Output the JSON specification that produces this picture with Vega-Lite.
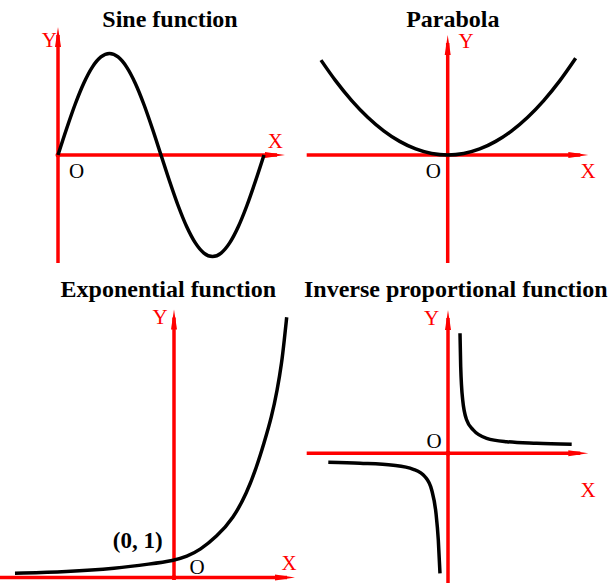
{
  "$schema": "https://vega.github.io/schema/vega-lite/v6.json",
  "padding": 0,
  "background": "white",
  "spacing": 0,
  "bounds": "flush",
  "columns": 2,
  "config": {"view": {"stroke": null}, "concat": {"spacing": 0}},
  "datasets": {
    "origin": [{"x": 0, "y": 0}],
    "sineCurve": [
      {"x": 0, "y": 0}, {"x": 0.2618, "y": 0.2588}, {"x": 0.5236, "y": 0.5}, {"x": 0.7854, "y": 0.7071},
      {"x": 1.0472, "y": 0.866}, {"x": 1.309, "y": 0.9659}, {"x": 1.5708, "y": 1}, {"x": 1.8326, "y": 0.9659},
      {"x": 2.0944, "y": 0.866}, {"x": 2.3562, "y": 0.7071}, {"x": 2.618, "y": 0.5}, {"x": 2.8798, "y": 0.2588},
      {"x": 3.1416, "y": 0}, {"x": 3.4034, "y": -0.2588}, {"x": 3.6652, "y": -0.5}, {"x": 3.927, "y": -0.7071},
      {"x": 4.1888, "y": -0.866}, {"x": 4.4506, "y": -0.9659}, {"x": 4.7124, "y": -1}, {"x": 4.9742, "y": -0.9659},
      {"x": 5.236, "y": -0.866}, {"x": 5.4978, "y": -0.7071}, {"x": 5.7596, "y": -0.5}, {"x": 6.0214, "y": -0.2588},
      {"x": 6.2832, "y": 0}
    ],
    "sineAxes": [{"x": -0.0305, "y": 0, "x2": 6.6797, "y2": 0}, {"x": 0, "y": -1.064, "x2": 0, "y2": 1.1823}],
    "sineArrows": [{"x": 6.9237, "y": 0, "angle": 90}, {"x": 0, "y": 1.2611, "angle": 0}],
    "sineText": [
      {"x": 3.4161, "y": 1.266, "label": "Sine function", "role": "title"},
      {"x": -0.2654, "y": 1.064, "label": "Y", "role": "axis"},
      {"x": 6.6278, "y": 0.066, "label": "X", "role": "axis"},
      {"x": 0.5704, "y": -0.2266, "label": "O", "role": "origin"}
    ],
    "paraCurve": [
      {"x": -1.98, "y": 3.9204}, {"x": -1.75, "y": 3.0625}, {"x": -1.5, "y": 2.25}, {"x": -1.25, "y": 1.5625},
      {"x": -1, "y": 1}, {"x": -0.75, "y": 0.5625}, {"x": -0.5, "y": 0.25}, {"x": -0.25, "y": 0.0625},
      {"x": 0, "y": 0}, {"x": 0.25, "y": 0.0625}, {"x": 0.5, "y": 0.25}, {"x": 0.75, "y": 0.5625},
      {"x": 1, "y": 1}, {"x": 1.25, "y": 1.5625}, {"x": 1.5, "y": 2.25}, {"x": 1.75, "y": 3.0625}, {"x": 2, "y": 4}
    ],
    "paraAxes": [{"x": -2.2031, "y": 0, "x2": 2.0719, "y2": 0}, {"x": 0, "y": -4.4628, "x2": 0, "y2": 4.6281}],
    "paraArrows": [{"x": 2.1969, "y": 0, "angle": 90}, {"x": 0, "y": 4.9587, "angle": 0}],
    "paraText": [
      {"x": 0.0797, "y": 5.3017, "label": "Parabola", "role": "title"},
      {"x": 0.2859, "y": 4.4215, "label": "Y", "role": "axis"},
      {"x": 2.1922, "y": -0.9504, "label": "X", "role": "axis"},
      {"x": -0.225, "y": -0.9504, "label": "O", "role": "origin"}
    ],
    "expCurve": [
      {"x": -5.679, "y": 0.247}, {"x": -3.832, "y": 0.341}, {"x": -2.046, "y": 0.541}, {"x": -0.857, "y": 0.794},
      {"x": 0, "y": 1.0}, {"x": 0.454, "y": 1.224}, {"x": 0.929, "y": 1.618}, {"x": 1.525, "y": 2.4},
      {"x": 2.118, "y": 3.482}, {"x": 2.596, "y": 4.953}, {"x": 2.954, "y": 6.518}, {"x": 3.214, "y": 7.894},
      {"x": 3.489, "y": 9.459}, {"x": 3.689, "y": 11.029}, {"x": 3.846, "y": 12.6}, {"x": 3.939, "y": 13.971},
      {"x": 4.025, "y": 15.306}
    ],
    "expAxes": [{"x": -6.3, "y": 0, "x2": 4.0357, "y2": 0}, {"x": 0, "y": -0.15, "x2": 0, "y2": 15.294}],
    "expArrows": [{"x": 4.3214, "y": 0, "angle": 90}, {"x": 0, "y": 15.765, "angle": 0}],
    "expText": [
      {"x": -0.204, "y": 16.518, "label": "Exponential function", "role": "title"},
      {"x": -0.5, "y": 14.912, "label": "Y", "role": "axis"},
      {"x": 4.107, "y": 0.441, "label": "X", "role": "axis"},
      {"x": 0.821, "y": 0.206, "label": "O", "role": "origin"},
      {"x": -1.296, "y": 1.718, "label": "(0, 1)", "role": "point"}
    ],
    "invCurve": [
      {"x": 0.343, "y": 3.429, "branch": "upper"}, {"x": 0.363, "y": 2.474, "branch": "upper"},
      {"x": 0.42, "y": 1.523, "branch": "upper"}, {"x": 0.534, "y": 0.951, "branch": "upper"},
      {"x": 0.723, "y": 0.666, "branch": "upper"}, {"x": 1.106, "y": 0.429, "branch": "upper"},
      {"x": 1.677, "y": 0.331, "branch": "upper"}, {"x": 2.534, "y": 0.286, "branch": "upper"},
      {"x": 3.534, "y": 0.257, "branch": "upper"},
      {"x": -3.42, "y": -0.257, "branch": "lower"}, {"x": -2.514, "y": -0.286, "branch": "lower"},
      {"x": -1.563, "y": -0.343, "branch": "lower"}, {"x": -0.991, "y": -0.457, "branch": "lower"},
      {"x": -0.657, "y": -0.669, "branch": "lower"}, {"x": -0.466, "y": -1.049, "branch": "lower"},
      {"x": -0.343, "y": -1.714, "branch": "lower"}, {"x": -0.277, "y": -2.477, "branch": "lower"},
      {"x": -0.229, "y": -3.429, "branch": "lower"}
    ],
    "invAxes": [{"x": -4.037, "y": 0, "x2": 3.78, "y2": 0}, {"x": 0, "y": -3.8, "x2": 0, "y2": 3.866}],
    "invArrows": [{"x": 4.0086, "y": 0, "angle": 90}, {"x": 0, "y": 4.094, "angle": 0}],
    "invText": [
      {"x": 0.223, "y": 4.457, "label": "Inverse proportional function", "role": "title"},
      {"x": -0.466, "y": 3.666, "label": "Y", "role": "axis"},
      {"x": 4.0, "y": -1.24, "label": "X", "role": "axis"},
      {"x": -0.4, "y": 0.151, "label": "O", "role": "origin"}
    ]
  },
  "concat": [
    {
      "width": 300,
      "height": 280,
      "encoding": {
        "x": {"field": "x", "type": "quantitative", "scale": {"domain": [-1.7691, 7.3812], "nice": false, "zero": false}, "axis": null},
        "y": {"field": "y", "type": "quantitative", "scale": {"domain": [-1.2315, 1.5271], "nice": false, "zero": false}, "axis": null}
      },
      "layer": [
        {"data": {"name": "sineAxes"}, "mark": {"type": "rule", "color": "#ff0000", "strokeWidth": 3.5, "clip": true}, "encoding": {"x2": {"field": "x2"}, "y2": {"field": "y2"}}},
        {"data": {"name": "sineArrows"}, "mark": {"type": "point", "shape": "M0,0L0.3,2L-0.3,2Z", "size": 400, "filled": true, "color": "#ff0000", "opacity": 1, "strokeWidth": 0, "clip": true}, "encoding": {"angle": {"field": "angle", "type": "quantitative", "scale": null}}},
        {"data": {"name": "origin"}, "mark": {"type": "point", "shape": "circle", "size": 25, "filled": true, "color": "#ff0000", "opacity": 1, "clip": true}},
        {"data": {"name": "sineCurve"}, "mark": {"type": "line", "color": "#000000", "strokeWidth": 3.5, "interpolate": "monotone", "clip": true}},
        {"data": {"name": "sineText"}, "transform": [{"filter": {"field": "role", "equal": "title"}}], "mark": {"type": "text", "font": "Liberation Serif", "fontSize": 24, "fontWeight": "bold", "color": "#000000", "align": "center", "baseline": "alphabetic", "clip": true}, "encoding": {"text": {"field": "label"}}},
        {"data": {"name": "sineText"}, "transform": [{"filter": {"field": "role", "equal": "axis"}}], "mark": {"type": "text", "font": "Liberation Serif", "fontSize": 21, "color": "#ff0000", "align": "center", "baseline": "alphabetic", "clip": true}, "encoding": {"text": {"field": "label"}}},
        {"data": {"name": "sineText"}, "transform": [{"filter": {"field": "role", "equal": "origin"}}], "mark": {"type": "text", "font": "Liberation Serif", "fontSize": 21, "color": "#000000", "align": "center", "baseline": "alphabetic", "clip": true}, "encoding": {"text": {"field": "label"}}}
      ]
    },
    {
      "width": 309,
      "height": 280,
      "encoding": {
        "x": {"field": "x", "type": "quantitative", "scale": {"domain": [-2.3078, 2.5203], "nice": false, "zero": false}, "axis": null},
        "y": {"field": "y", "type": "quantitative", "scale": {"domain": [-5.1653, 6.405], "nice": false, "zero": false}, "axis": null}
      },
      "layer": [
        {"data": {"name": "paraAxes"}, "mark": {"type": "rule", "color": "#ff0000", "strokeWidth": 3.5, "clip": true}, "encoding": {"x2": {"field": "x2"}, "y2": {"field": "y2"}}},
        {"data": {"name": "paraArrows"}, "mark": {"type": "point", "shape": "M0,0L0.3,2L-0.3,2Z", "size": 400, "filled": true, "color": "#ff0000", "opacity": 1, "strokeWidth": 0, "clip": true}, "encoding": {"angle": {"field": "angle", "type": "quantitative", "scale": null}}},
        {"data": {"name": "origin"}, "mark": {"type": "point", "shape": "circle", "size": 25, "filled": true, "color": "#ff0000", "opacity": 1, "clip": true}},
        {"data": {"name": "paraCurve"}, "mark": {"type": "line", "color": "#000000", "strokeWidth": 3.5, "interpolate": "monotone", "clip": true}},
        {"data": {"name": "paraText"}, "transform": [{"filter": {"field": "role", "equal": "title"}}], "mark": {"type": "text", "font": "Liberation Serif", "fontSize": 24, "fontWeight": "bold", "color": "#000000", "align": "center", "baseline": "alphabetic", "clip": true}, "encoding": {"text": {"field": "label"}}},
        {"data": {"name": "paraText"}, "transform": [{"filter": {"field": "role", "equal": "axis"}}], "mark": {"type": "text", "font": "Liberation Serif", "fontSize": 21, "color": "#ff0000", "align": "center", "baseline": "alphabetic", "clip": true}, "encoding": {"text": {"field": "label"}}},
        {"data": {"name": "paraText"}, "transform": [{"filter": {"field": "role", "equal": "origin"}}], "mark": {"type": "text", "font": "Liberation Serif", "fontSize": 21, "color": "#000000", "align": "center", "baseline": "alphabetic", "clip": true}, "encoding": {"text": {"field": "label"}}}
      ]
    },
    {
      "width": 300,
      "height": 303,
      "encoding": {
        "x": {"field": "x", "type": "quantitative", "scale": {"domain": [-6.2143, 4.5], "nice": false, "zero": false}, "axis": null},
        "y": {"field": "y", "type": "quantitative", "scale": {"domain": [-0.3235, 17.5], "nice": false, "zero": false}, "axis": null}
      },
      "layer": [
        {"data": {"name": "expAxes"}, "mark": {"type": "rule", "color": "#ff0000", "strokeWidth": 3.5, "clip": true}, "encoding": {"x2": {"field": "x2"}, "y2": {"field": "y2"}}},
        {"data": {"name": "expArrows"}, "mark": {"type": "point", "shape": "M0,0L0.3,2L-0.3,2Z", "size": 400, "filled": true, "color": "#ff0000", "opacity": 1, "strokeWidth": 0, "clip": true}, "encoding": {"angle": {"field": "angle", "type": "quantitative", "scale": null}}},
        {"data": {"name": "origin"}, "mark": {"type": "point", "shape": "circle", "size": 25, "filled": true, "color": "#ff0000", "opacity": 1, "clip": true}},
        {"data": {"name": "expCurve"}, "mark": {"type": "line", "color": "#000000", "strokeWidth": 3.5, "interpolate": "basis", "clip": true}},
        {"data": {"name": "expText"}, "transform": [{"filter": {"field": "role", "equal": "title"}}], "mark": {"type": "text", "font": "Liberation Serif", "fontSize": 24, "fontWeight": "bold", "color": "#000000", "align": "center", "baseline": "alphabetic", "clip": true}, "encoding": {"text": {"field": "label"}}},
        {"data": {"name": "expText"}, "transform": [{"filter": {"field": "role", "equal": "point"}}], "mark": {"type": "text", "font": "Liberation Serif", "fontSize": 23, "fontWeight": "bold", "color": "#000000", "align": "center", "baseline": "alphabetic", "clip": true}, "encoding": {"text": {"field": "label"}}},
        {"data": {"name": "expText"}, "transform": [{"filter": {"field": "role", "equal": "axis"}}], "mark": {"type": "text", "font": "Liberation Serif", "fontSize": 21, "color": "#ff0000", "align": "center", "baseline": "alphabetic", "clip": true}, "encoding": {"text": {"field": "label"}}},
        {"data": {"name": "expText"}, "transform": [{"filter": {"field": "role", "equal": "origin"}}], "mark": {"type": "text", "font": "Liberation Serif", "fontSize": 21, "color": "#000000", "align": "center", "baseline": "alphabetic", "clip": true}, "encoding": {"text": {"field": "label"}}}
      ]
    },
    {
      "width": 309,
      "height": 303,
      "encoding": {
        "x": {"field": "x", "type": "quantitative", "scale": {"domain": [-4.2286, 4.6], "nice": false, "zero": false}, "axis": null},
        "y": {"field": "y", "type": "quantitative", "scale": {"domain": [-3.7057, 4.9514], "nice": false, "zero": false}, "axis": null}
      },
      "layer": [
        {"data": {"name": "invAxes"}, "mark": {"type": "rule", "color": "#ff0000", "strokeWidth": 3.5, "clip": true}, "encoding": {"x2": {"field": "x2"}, "y2": {"field": "y2"}}},
        {"data": {"name": "invArrows"}, "mark": {"type": "point", "shape": "M0,0L0.3,2L-0.3,2Z", "size": 400, "filled": true, "color": "#ff0000", "opacity": 1, "strokeWidth": 0, "clip": true}, "encoding": {"angle": {"field": "angle", "type": "quantitative", "scale": null}}},
        {"data": {"name": "origin"}, "mark": {"type": "point", "shape": "circle", "size": 25, "filled": true, "color": "#ff0000", "opacity": 1, "clip": true}},
        {"data": {"name": "invCurve"}, "mark": {"type": "line", "color": "#000000", "strokeWidth": 3.5, "interpolate": "monotone", "clip": true}, "encoding": {"detail": {"field": "branch", "type": "nominal"}}},
        {"data": {"name": "invText"}, "transform": [{"filter": {"field": "role", "equal": "title"}}], "mark": {"type": "text", "font": "Liberation Serif", "fontSize": 24, "fontWeight": "bold", "color": "#000000", "align": "center", "baseline": "alphabetic", "clip": true}, "encoding": {"text": {"field": "label"}}},
        {"data": {"name": "invText"}, "transform": [{"filter": {"field": "role", "equal": "axis"}}], "mark": {"type": "text", "font": "Liberation Serif", "fontSize": 21, "color": "#ff0000", "align": "center", "baseline": "alphabetic", "clip": true}, "encoding": {"text": {"field": "label"}}},
        {"data": {"name": "invText"}, "transform": [{"filter": {"field": "role", "equal": "origin"}}], "mark": {"type": "text", "font": "Liberation Serif", "fontSize": 21, "color": "#000000", "align": "center", "baseline": "alphabetic", "clip": true}, "encoding": {"text": {"field": "label"}}}
      ]
    }
  ]
}
